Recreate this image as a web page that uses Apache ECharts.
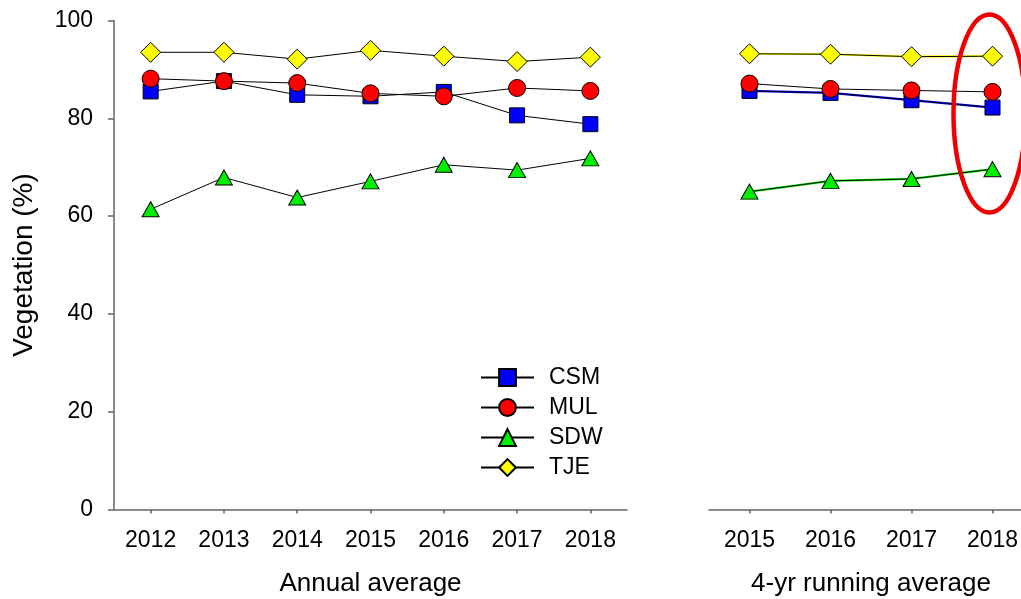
<!DOCTYPE html>
<html>
<head>
<meta charset="utf-8">
<script src="https://cdn.jsdelivr.net/npm/echarts@6/dist/echarts.min.js"></script>
<style>html,body{margin:0;padding:0;background:#fff}#c{width:1021px;height:599px}</style>
</head>
<body>
<div id="c"></div>
<script>
// Data
var annualYears = ['2012','2013','2014','2015','2016','2017','2018'];
var runningYears = ['2015','2016','2017','2018'];
var yTicks = [0,20,40,60,80,100];

var csmAnnual = [85.5, 87.6, 84.8, 84.5, 85.4, 80.6, 78.8];
var mulAnnual = [88.1, 87.6, 87.2, 85.1, 84.5, 86.2, 85.6];
var sdwAnnual = [61.4, 67.9, 63.8, 67.1, 70.5, 69.4, 71.8];
var tjeAnnual = [93.5, 93.5, 92.1, 93.9, 92.7, 91.6, 92.5];

var csmRunning = [85.6, 85.2, 83.7, 82.2];
var mulRunning = [87.1, 86.0, 85.7, 85.4];
var sdwRunning = [65.0, 67.2, 67.6, 69.6];
var tjeRunning = [93.2, 93.1, 92.6, 92.7];

var names = ['CSM','MUL','SDW','TJE'];
var fills = ['#0000ff','#ff0000','#00ee00','#ffff00'];
var symbols = ['rect','circle','triangle','diamond'];
var sizes = [[15,15],[17,17],[17,15],[20,20]];
var colouredRunningLine = [true, false, true, true];

var FONT = 'Liberation Sans, Arial, sans-serif';
var axisGray = '#666666';

function mainSeries(i, data, axisIdx) {
  return {
    name: names[i], type: 'line', data: data,
    xAxisIndex: axisIdx, yAxisIndex: axisIdx,
    symbol: symbols[i], symbolSize: sizes[i],
    lineStyle: {color: '#000', width: 1},
    itemStyle: {color: fills[i], borderColor: '#000', borderWidth: 1},
    emphasis: {disabled: true}, animation: false, z: 3
  };
}
function underlay(i, data) {
  return {
    name: names[i] + '_run', type: 'line', data: data,
    xAxisIndex: 1, yAxisIndex: 1, symbol: 'none',
    lineStyle: {color: fills[i], width: 2.2},
    emphasis: {disabled: true}, animation: false, z: 2
  };
}

var series = [];
var ann = [csmAnnual, mulAnnual, sdwAnnual, tjeAnnual];
var run = [csmRunning, mulRunning, sdwRunning, tjeRunning];
for (var i = 0; i < 4; i++) series.push(mainSeries(i, ann[i], 0));
for (var i = 0; i < 4; i++) if (colouredRunningLine[i]) series.push(underlay(i, run[i]));
for (var i = 0; i < 4; i++) series.push(mainSeries(i, run[i], 1));

function xAxis(data, gi, name) {
  return {
    type: 'category', data: data, gridIndex: gi, boundaryGap: true,
    name: name, nameLocation: 'middle', nameGap: 61,
    nameTextStyle: {fontFamily: FONT, fontSize: 26, color: '#000'},
    axisLine: {show: true, lineStyle: {color: axisGray, width: 1.5}},
    axisTick: {show: true, alignWithLabel: true, length: 4, lineStyle: {color: axisGray, width: 1.5}},
    axisLabel: {fontFamily: FONT, fontSize: 23, color: '#000', margin: 20},
    splitLine: {show: false}
  };
}

var chart = echarts.init(document.getElementById('c'));
chart.setOption({
  animation: false,
  backgroundColor: '#fff',
  grid: [
    {left: 114, right: 394, top: 20.5, bottom: 89.5, containLabel: false, outerBoundsMode: 'none'},
    {left: 709, right: -12, top: 20.5, bottom: 89.5, containLabel: false, outerBoundsMode: 'none'}
  ],
  xAxis: [xAxis(annualYears, 0, 'Annual average'), xAxis(runningYears, 1, '4-yr running average')],
  yAxis: [
    {
      type: 'value', gridIndex: 0, min: yTicks[0], max: yTicks[yTicks.length-1], interval: 20,
      name: 'Vegetation (%)', nameLocation: 'middle', nameGap: 76, nameRotate: 90,
      nameTextStyle: {fontFamily: FONT, fontSize: 28, color: '#000'},
      axisLine: {show: true, lineStyle: {color: axisGray, width: 1.5}},
      axisTick: {show: true, length: 6, lineStyle: {color: axisGray, width: 1.5}},
      axisLabel: {fontFamily: FONT, fontSize: 23, color: '#000', margin: 21},
      splitLine: {show: false}
    },
    {
      type: 'value', gridIndex: 1, min: yTicks[0], max: yTicks[yTicks.length-1], interval: 20,
      axisLine: {show: false}, axisTick: {show: false}, axisLabel: {show: false},
      splitLine: {show: false}
    }
  ],
  legend: {
    data: names, orient: 'vertical', left: 480, top: 366, padding: 0,
    itemWidth: 53, itemHeight: 21, itemGap: 7,
    textStyle: {fontFamily: FONT, fontSize: 23, color: '#000', padding: [0,0,0,10]},
    selectedMode: false
  },
  series: series
});

// Red ellipse annotation around the last running-average year
var c = chart.convertToPixel({xAxisIndex: 1, yAxisIndex: 1}, [runningYears[3], 81]);
chart.setOption({
  graphic: [{
    type: 'ellipse', shape: {cx: c[0] - 3, cy: c[1], rx: 36, ry: 99},
    style: {fill: 'none', stroke: '#ee0000', lineWidth: 4.5}, z: 10
  }]
});
</script>
</body>
</html>
